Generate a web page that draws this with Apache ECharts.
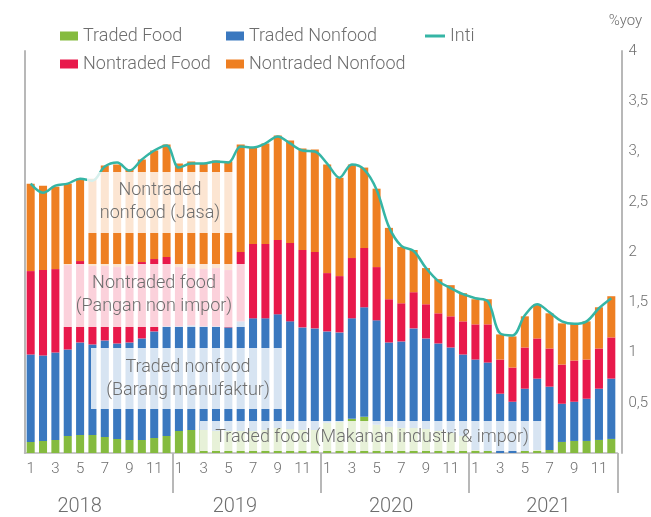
<!DOCTYPE html>
<html>
<head>
<meta charset="utf-8">
<script src="https://cdn.jsdelivr.net/npm/echarts@6/dist/echarts.min.js"></script>
<style>
  html, body { margin: 0; padding: 0; background: #fff; }
  #chart { width: 651px; height: 517px; }
</style>
</head>
<body>
<div id="chart"></div>
<script>
// data (%yoy contributions)
const years = ['2018', '2019', '2020', '2021']
const months = ['1', '2', '3', '4', '5', '6', '7', '8', '9', '10', '11', '12']
const yTickLabels = ['', '0,5', '1', '1,5', '2', '2,5', '3,', '3,5', '4']

const tradedFood = [
  0.11, 0.12, 0.13, 0.17, 0.18, 0.18, 0.16, 0.14, 0.13, 0.13, 0.15, 0.17,
  0.22, 0.23, 0.23, 0.22, 0.22, 0.22, 0.22, 0.23, 0.25, 0.24, 0.23, 0.23,
  0.30, 0.31, 0.34, 0.36, 0.28, 0.26, 0.25, 0.25, 0.24, 0.22, 0.20, 0.17,
  0.03, 0.02, 0.00, 0.00, 0.02, 0.03, 0.03, 0.11, 0.12, 0.12, 0.13, 0.14
]
const tradedNonfood = [
  0.87, 0.85, 0.87, 0.86, 0.92, 0.90, 0.96, 0.95, 0.97, 1.01, 1.06, 1.09,
  1.04, 1.04, 1.03, 1.04, 1.03, 1.09, 1.12, 1.11, 1.13, 1.07, 1.02, 1.01,
  0.91, 0.89, 1.00, 1.09, 1.04, 0.84, 0.86, 0.99, 0.90, 0.87, 0.85, 0.81,
  0.90, 0.88, 0.59, 0.51, 0.62, 0.71, 0.63, 0.38, 0.39, 0.42, 0.51, 0.60
]
const nontradedFood = [
  0.83, 0.85, 0.83, 0.84, 0.81, 0.78, 0.74, 0.76, 0.76, 0.76, 0.72, 0.69,
  0.59, 0.57, 0.57, 0.58, 0.57, 0.69, 0.74, 0.74, 0.74, 0.78, 0.77, 0.76,
  0.58, 0.56, 0.60, 0.59, 0.53, 0.43, 0.38, 0.36, 0.34, 0.30, 0.31, 0.33,
  0.35, 0.38, 0.34, 0.34, 0.41, 0.40, 0.38, 0.39, 0.41, 0.39, 0.40, 0.41
]
const nontradedNonfood = [
  0.87, 0.84, 0.82, 0.81, 0.82, 0.87, 1.00, 1.02, 0.96, 1.02, 1.08, 1.12,
  1.03, 1.06, 1.05, 1.07, 1.08, 1.07, 0.96, 1.00, 1.04, 1.02, 1.01, 1.02,
  1.08, 0.98, 0.93, 0.80, 0.78, 0.71, 0.56, 0.42, 0.36, 0.34, 0.31, 0.28,
  0.25, 0.25, 0.25, 0.31, 0.31, 0.34, 0.35, 0.41, 0.37, 0.38, 0.41, 0.41
]
const inti = [
  2.68, 2.59, 2.66, 2.68, 2.73, 2.71, 2.85, 2.89, 2.81, 2.92, 3.01, 3.06,
  2.84, 2.88, 2.88, 2.90, 2.89, 3.05, 3.04, 3.08, 3.15, 3.08, 3.01, 3.00,
  2.88, 2.74, 2.87, 2.82, 2.62, 2.25, 2.06, 2.01, 1.84, 1.71, 1.64, 1.58,
  1.54, 1.51, 1.19, 1.17, 1.37, 1.48, 1.40, 1.31, 1.285, 1.31, 1.44, 1.54
]

const categories = years.flatMap((y) => months.map((m) => y + '-' + m))

const FONT = 'Roboto, "Noto Sans", sans-serif'
const GREY_TEXT = '#6e6e6e'
const AXIS_GREY = '#b8b8b8'

const chart = echarts.init(document.getElementById('chart'))

const legendItem = (name, left, top, extra) => Object.assign({
  data: [name],
  left: left,
  top: top,
  itemWidth: 18,
  itemHeight: 9,
  icon: 'rect',
  textStyle: { fontFamily: FONT, fontWeight: 300, fontSize: 18, color: GREY_TEXT },
}, extra || {})

const barSeries = (name, data, color) => ({
  name: name,
  type: 'bar',
  stack: 'total',
  xAxisIndex: 0,
  yAxisIndex: 1,
  barCategoryGap: '35%',
  itemStyle: { color: color },
  data: data,
})

// semi transparent white boxes with the explanatory labels
const note = (x, y, w, h, text, cx, cy) => ({
  type: 'group',
  z: 100,
  children: [
    { type: 'rect', z: 100, shape: { x: x, y: y, width: w, height: h },
      style: { fill: 'rgba(255,255,255,0.8)' } },
    { type: 'text', z: 101, x: cx, y: cy,
      style: { text: text, align: 'center', verticalAlign: 'middle', fill: GREY_TEXT,
               font: '300 18px ' + FONT, lineHeight: 23 } },
  ],
})

chart.setOption({
  animation: false,
  grid: { left: 24.5, right: 32, top: 51, bottom: 63 },
  legend: [
    legendItem('Traded Food', 55, 22),
    legendItem('Traded Nonfood', 221, 22),
    legendItem('Inti', 420, 22, { itemWidth: 20, itemHeight: 3 }),
    legendItem('Nontraded Food', 55, 50),
    legendItem('Nontraded Nonfood', 221, 50),
  ],
  xAxis: [
    {
      type: 'category',
      data: categories,
      axisLine: { lineStyle: { color: AXIS_GREY, width: 1.5 } },
      axisTick: { interval: 0, length: 4, lineStyle: { color: AXIS_GREY } },
      axisLabel: {
        interval: 1,
        margin: 9,
        fontFamily: FONT,
        fontWeight: 300,
        fontSize: 15,
        color: GREY_TEXT,
        formatter: (v) => v.split('-')[1],
      },
    },
    {
      type: 'category',
      position: 'bottom',
      data: [
        { value: years[0], textStyle: { padding: [0, 38, 0, 0] } },
        { value: years[1], textStyle: { padding: [0, 24, 0, 0] } },
        { value: years[2], textStyle: { padding: [0, 8, 0, 0] } },
        { value: years[3], textStyle: { padding: [0, 0, 0, 10] } },
      ],
      axisLine: { show: true, lineStyle: { color: 'rgba(0,0,0,0)', width: 0 } },
      axisTick: { show: true, length: 40, interval: (i) => i > 0, lineStyle: { color: AXIS_GREY, width: 2 } },
      axisLabel: { margin: 44, fontFamily: FONT, fontWeight: 300, fontSize: 20, color: GREY_TEXT },
    },
  ],
  yAxis: [
    {
      type: 'value',
      position: 'left',
      min: 0,
      max: 4,
      interval: 0.5,
      axisLine: { show: true, lineStyle: { color: AXIS_GREY, width: 2 } },
      axisTick: { show: false },
      axisLabel: { show: false },
      splitLine: { show: false },
    },
    {
      type: 'value',
      position: 'right',
      offset: 4,
      min: 0,
      max: 4,
      interval: 0.5,
      name: '%yoy',
      nameLocation: 'end',
      nameGap: 22,
      nameTextStyle: { fontFamily: FONT, fontWeight: 300, fontSize: 15, color: GREY_TEXT, align: 'center', padding: [0, 0, 0, 8] },
      axisLine: { show: true, lineStyle: { color: AXIS_GREY, width: 2 } },
      axisTick: { show: false },
      splitLine: { show: false },
      axisLabel: {
        margin: 7,
        fontFamily: FONT,
        fontWeight: 300,
        fontSize: 15,
        color: GREY_TEXT,
        formatter: (v) => yTickLabels[Math.round(v / 0.5)],
      },
    },
  ],
  series: [
    barSeries('Traded Food', tradedFood, '#85bb3f'),
    barSeries('Traded Nonfood', tradedNonfood, '#3a78bf'),
    barSeries('Nontraded Food', nontradedFood, '#e8194b'),
    barSeries('Nontraded Nonfood', nontradedNonfood, '#ee7f22'),
    {
      name: 'Inti',
      type: 'line',
      xAxisIndex: 0,
      yAxisIndex: 1,
      data: inti,
      smooth: 0.35,
      symbol: 'none',
      z: 5,
      itemStyle: { color: '#35b5a5' },
      lineStyle: { color: '#35b5a5', width: 2.5 },
    },
  ],
  graphic: [
    note(87, 172, 146, 61, 'Nontraded\nnonfood (Jasa)', 160, 202),
    note(62, 264, 183, 63, 'Nontraded food\n(Pangan non impor)', 154, 295),
    note(91, 348, 192, 61, 'Traded nonfood\n(Barang manufaktur)', 188, 379),
    note(200, 421, 342, 30, 'Traded food (Makanan industri & impor)', 372, 437),
  ],
})
</script>
</body>
</html>
